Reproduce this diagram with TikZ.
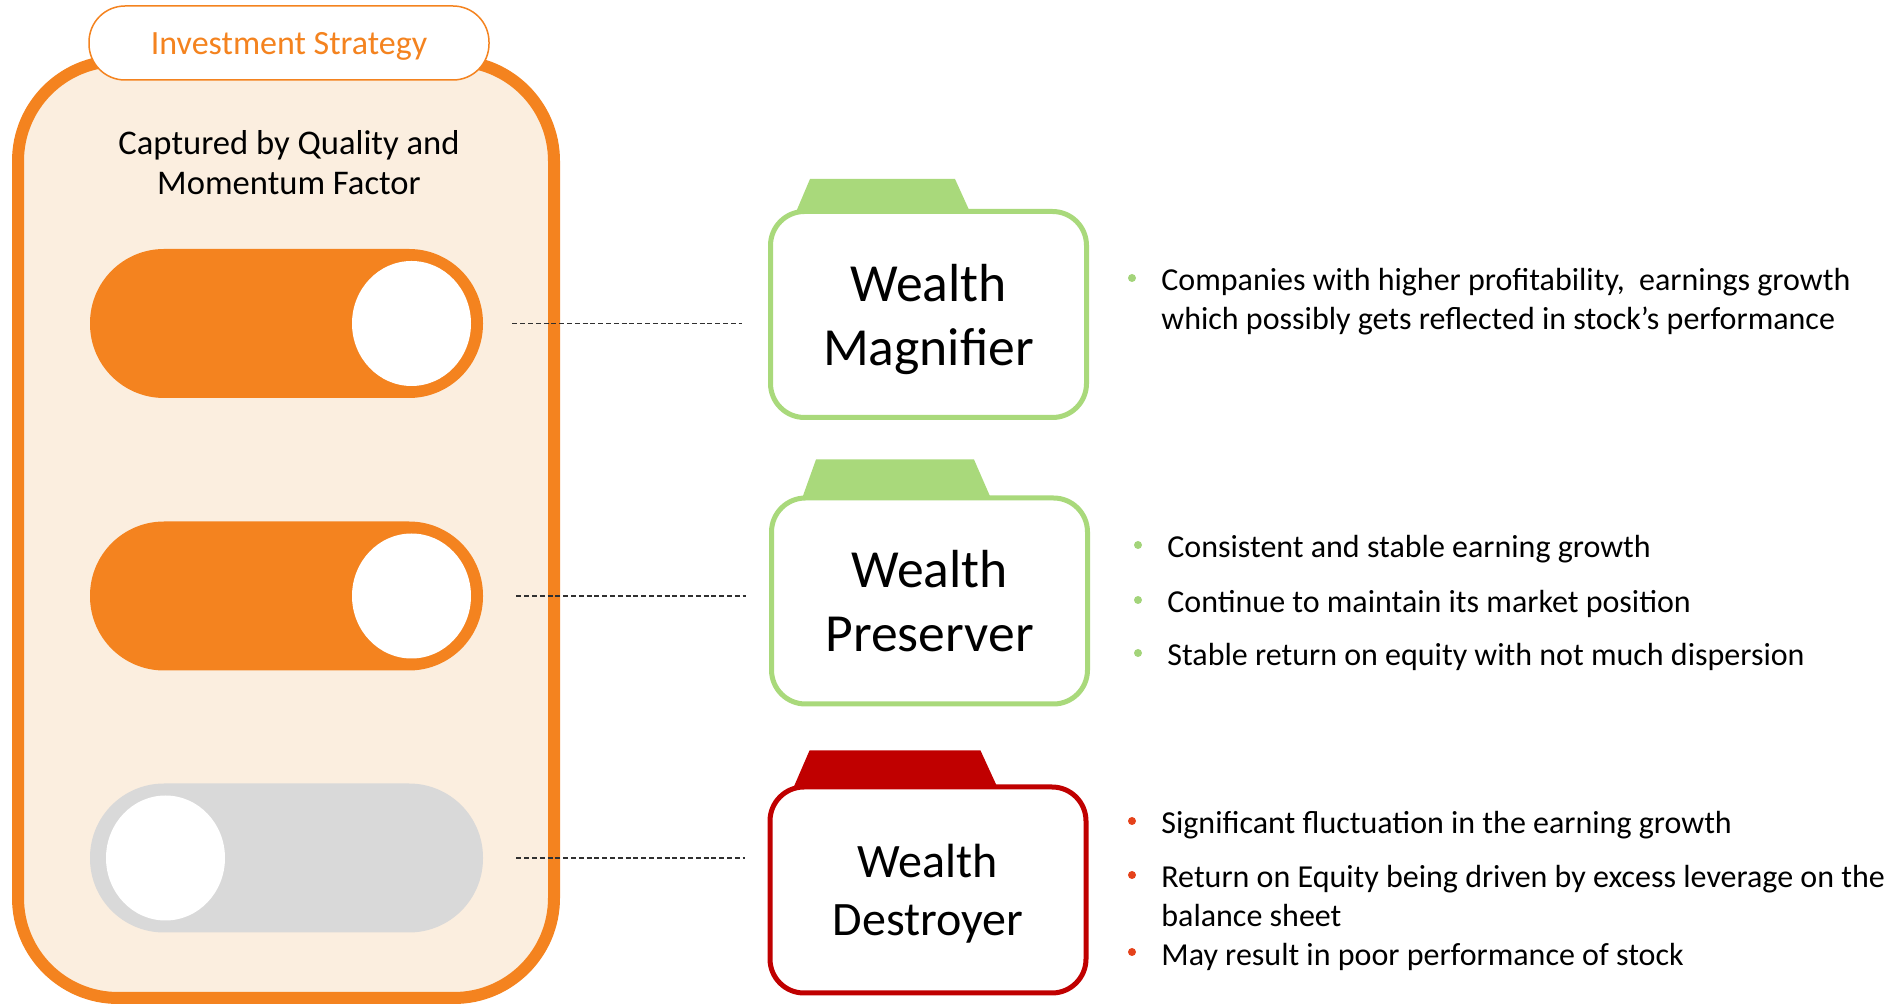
\documentclass[tikz,border=0pt]{standalone}
\usepackage{fontspec}
\setmainfont{Carlito}
\usetikzlibrary{positioning,calc,shapes.geometric}
\definecolor{panel}{HTML}{F4831F}
\definecolor{pfill}{HTML}{FBEEDF}
\definecolor{offgray}{HTML}{D9D9D9}
\definecolor{gline}{HTML}{A9D97B}
\definecolor{rline}{HTML}{C00000}
\definecolor{gdot}{HTML}{A3D47A}
\definecolor{rdot}{HTML}{E5421B}
\definecolor{dashc}{HTML}{303030}

\begin{document}
\begin{tikzpicture}[
    x=0.5pt, y=-0.5pt,
    font=\fontsize{16}{19.5}\selectfont,
    card/.style={draw=#1, fill=white, line width=2.5pt, rounded corners=17pt, inner sep=0pt,
                 minimum width=158pt, minimum height=103pt, align=center, text depth=0pt,
                 font=\fontsize{26.8}{32}\selectfont},
    toggle/.style={fill=#1, rounded corners=37pt, inner sep=0pt,
                   minimum width=196.5pt, minimum height=74.5pt},
    knob/.style={ellipse, fill=white, inner sep=0pt, minimum width=59.5pt, minimum height=62.5pt},
    link/.style={draw=dashc, line width=0.9pt, dash pattern=on 2.5pt off 1.4pt},
    item/.style={anchor=base west, align=left, inner sep=0pt},
    dot/.style={circle, fill=#1, inner sep=0pt, minimum size=4pt},
  ]
  \useasboundingbox (0,0) rectangle (1902,1004);

  % ---- left panel
  \node[draw=panel, fill=pfill, line width=6pt, rounded corners=50pt, inner sep=0pt,
        minimum width=268pt, minimum height=468.5pt] (frame) at (286,529.5) {};
  \node[draw=panel, fill=white, line width=0.75pt, rounded corners=18pt, text=panel,
        minimum width=200pt, minimum height=37pt, text depth=0pt, font=\fontsize{17}{20}\selectfont]
        (title) at (289,43) {Investment Strategy};
  \node[align=center, font=\fontsize{17.3}{20}\selectfont] (capt) at (289,163)
        {Captured by Quality and\\Momentum Factor};

  % ---- switches
  \node[toggle=panel] (tog1) at (286.5,323.5) {};
  \node[knob, anchor=east] (knob1) at ([xshift=-6pt]tog1.east) {};
  \node[toggle=panel] (tog2) at (286.5,596) {};
  \node[knob, anchor=east] (knob2) at ([xshift=-6pt]tog2.east) {};
  \node[toggle=offgray] (tog3) at (286.5,858) {};
  \node[knob, anchor=west] (knob3) at ([xshift=8pt]tog3.west) {};

  % ---- folder tabs, then cards
  \node[card=gline] (mag) at (928.5,314.5) {Wealth\\Magnifier};
  \node[card=gline] (pres) at (929.5,601) {Wealth\\Preserver};
  \node[card=rline, font=\fontsize{24}{29}\selectfont] (dest) at (928,890) {Wealth\\Destroyer};
  \fill[gline] ($(mag.north west)+(28,3)$) -- ++(14,-33) -- ++(145,0) -- ++(15,33) -- cycle;
  \fill[gline] ($(pres.north west)+(33,3)$) -- ++(14,-39) -- ++(158,0) -- ++(17,39) -- cycle;
  \fill[rline] ($(dest.north west)+(26,3)$) -- ++(16,-37) -- ++(171,0) -- ++(17,37) -- cycle;

  % ---- dashed links, over the panel border
  \draw[link] ($(tog1.east)+(29,0)$) -- ($(mag.west |- tog1.east)+(-26,0)$);
  \draw[link] ($(tog2.east)+(33,0)$) -- ($(pres.west |- tog2.east)+(-23,0)$);
  \draw[link] ($(tog3.east)+(33,0)$) -- ($(dest.west |- tog3.east)+(-23,0)$);

  % ---- bullet notes (base = last line)
  \node[item] (m1) at (1161,330) {Companies with higher profitability, \ earnings growth\\which possibly gets reflected in stock’s performance};
  \node[dot=gdot] (m1b) at ([xshift=-14.5pt,yshift=26pt]m1.base west) {};

  \node[item] (p1) at (1167,558) {Consistent and stable earning growth};
  \node[item] (p2) at (1167,613) {Continue to maintain its market position};
  \node[item] (p3) at (1167,666) {Stable return on equity with not much dispersion};
  \node[dot=gdot] (p1b) at ([xshift=-14.5pt,yshift=6.5pt]p1.base west) {};
  \node[dot=gdot] (p2b) at ([xshift=-14.5pt,yshift=6.5pt]p2.base west) {};
  \node[dot=gdot] (p3b) at ([xshift=-14.5pt,yshift=6.5pt]p3.base west) {};

  \node[item] (d1) at (1161,834) {Significant fluctuation in the earning growth};
  \node[item] (d2) at (1161,927) {Return on Equity being driven by excess leverage on the\\balance sheet};
  \node[item] (d3) at (1161,965) {May result in poor performance of stock};
  \node[dot=rdot] (d1b) at ([xshift=-14.5pt,yshift=6.5pt]d1.base west) {};
  \node[dot=rdot] (d2b) at ([xshift=-14.5pt,yshift=26pt]d2.base west) {};
  \node[dot=rdot] (d3b) at ([xshift=-14.5pt,yshift=6.5pt]d3.base west) {};
\end{tikzpicture}
\end{document}
